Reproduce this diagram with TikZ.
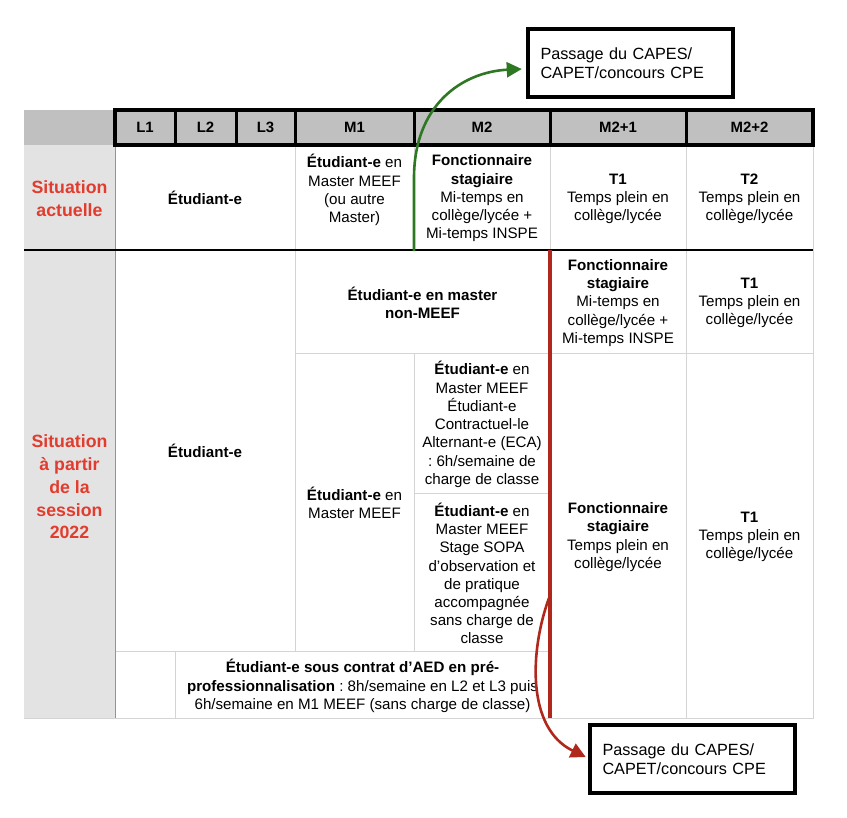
\documentclass[tikz,border=0pt]{standalone}
\usepackage{fontspec}
\setmainfont{Liberation Sans}
\frenchspacing
\usetikzlibrary{calc,arrows.meta}
\definecolor{hdrgray}{RGB}{192,192,192}
\definecolor{colgray}{RGB}{227,227,227}
\definecolor{linegray}{RGB}{212,212,212}
\definecolor{redtxt}{RGB}{225,60,45}
\definecolor{redline}{RGB}{176,40,28}
\definecolor{greenline}{RGB}{46,120,35}

\begin{document}
\begin{tikzpicture}[x=1bp,y=-1bp,
    txt/.style={font=\fontsize{15.2}{18.3}\selectfont, align=center, inner sep=0pt},
    hdrtxt/.style={font=\fontsize{15}{18}\selectfont\bfseries, inner sep=0pt},
    sit/.style={font=\fontsize{17.8}{22.8}\selectfont\bfseries, text=redtxt, align=center, inner sep=0pt},
    cellbox/.style={draw=linegray, line width=1bp},
    capes/.style={draw, line width=4.5bp, minimum width=205bp, minimum height=68bp, text width=180bp, align=left, inner sep=0pt, font=\fontsize{16.3}{18.5}\selectfont},
    arr/.style={line width=2.6bp, -{Triangle[length=15bp,width=15bp]}}]
            \useasboundingbox (0,0) rectangle (847,818);
            \fill[colgray] (24,145) rectangle (115,718);
            \fill[hdrgray] (24,110) rectangle (115,145);
            \foreach \a/\b/\c/\d in {115/145/295/250, 295/145/414/250, 414/145/550/250, 550/145/686/250, 686/145/813/250,
                115/250/295/651, 295/250/550/353, 550/250/686/353, 686/250/813/353, 295/353/414/651, 414/353/550/493,
                414/493/550/651, 115/651/175/718, 175/651/550/718, 550/353/686/718, 686/353/813/718}
                \draw[cellbox] (\a,\b) rectangle (\c,\d);
            \draw[linegray!70!black, line width=0.8bp] (115,145) -- (115,718);
            \draw[linegray, line width=1bp] (24,718) -- (115,718);
            \foreach \a/\b/\t [count=\i] in {115/175/L1, 175/236/L2, 236/295/L3, 295/414/M1, 414/550/M2, 550/686/M2+1, 686/813/M2+2}
            {
                \draw[fill=hdrgray, line width=3bp] (\a,110) rectangle (\b,145);
                \node[hdrtxt] (h\i) at ({(\a+\b)/2},127.5) {\t};
            }
            \draw[line width=4.5bp] (115,110) rectangle (813,145);
            \draw[line width=1.5bp] (24,250) -- (813,250);

            \node[sit] (sitA) at (69.5,199) {Situation\\actuelle};
            \node[sit] (sitB) at (69.5,487) {Situation\\à partir\\de la\\session\\2022};

            \node[txt] (etuA) at (205,198) {\textbf{Étudiant-e}};
            \node[txt] (masA) at (354.5,190) {\textbf{Étudiant-e} en\\Master MEEF\\(ou autre\\Master)};
            \node[txt] (fonA) at (482,198.5) {\textbf{Fonctionnaire}\\\textbf{stagiaire}\\Mi-temps en\\collège/lycée +\\Mi-temps INSPE};
            \node[txt] (tunA) at (618,199) {\textbf{T1}\\Temps plein en\\collège/lycée};
            \node[txt] (tdeA) at (749.5,199) {\textbf{T2}\\Temps plein en\\collège/lycée};

            \node[txt] (etuB) at (205,451) {\textbf{Étudiant-e}};
            \node[txt] (nonB) at (422.5,303) {\textbf{Étudiant-e en master}\\\textbf{non-MEEF}};
            \node[txt] (fonB) at (618,303) {\textbf{Fonctionnaire}\\\textbf{stagiaire}\\Mi-temps en\\collège/lycée +\\Mi-temps INSPE};
            \node[txt] (tunB) at (749.5,303) {\textbf{T1}\\Temps plein en\\collège/lycée};
            \node[txt] (masB) at (354.5,503) {\textbf{Étudiant-e} en\\Master MEEF};
            \node[txt] (ecaB) at (482,424.5) {\textbf{Étudiant-e} en\\Master MEEF\\Étudiant-e\\Contractuel-le\\Alternant-e (ECA)\\: 6h/semaine de\\charge de classe};
            \node[txt] (sopB) at (482,573.5) {\textbf{Étudiant-e} en\\Master MEEF\\Stage SOPA\\d’observation et\\de pratique\\accompagnée\\sans charge de\\classe};
            \node[txt] (fonC) at (618,537) {\textbf{Fonctionnaire}\\\textbf{stagiaire}\\Temps plein en\\collège/lycée};
            \node[txt] (tunC) at (749.5,537) {\textbf{T1}\\Temps plein en\\collège/lycée};
            \node[txt] (aedB) at (362.5,686) {\textbf{Étudiant-e sous contrat d’AED en pré-}\\\textbf{professionnalisation} : 8h/semaine en L2 et L3 puis\\6h/semaine en M1 MEEF (sans charge de classe)};

            \node[capes] (capesTop) at (630.5,63) {Passage du CAPES/\\CAPET/concours CPE};
            \node[capes] (capesBot) at (692.5,759) {Passage du CAPES/\\CAPET/concours CPE};

            \coordinate (gStart) at (414,251);
            \coordinate (rStart) at (549,598);
            \draw[redline, line width=3.3bp] (550,250) -- (550,718);
            \draw[arr, greenline] (gStart) -- (414,178) .. controls (414,105) and (462,72) .. ($(capesTop.west)+(-4,6)$);
            \draw[arr, redline] (rStart) .. controls (530,650) and (526,728) .. ($(capesBot.west)+(-2,-2)$);
        \end{tikzpicture}
\end{document}
